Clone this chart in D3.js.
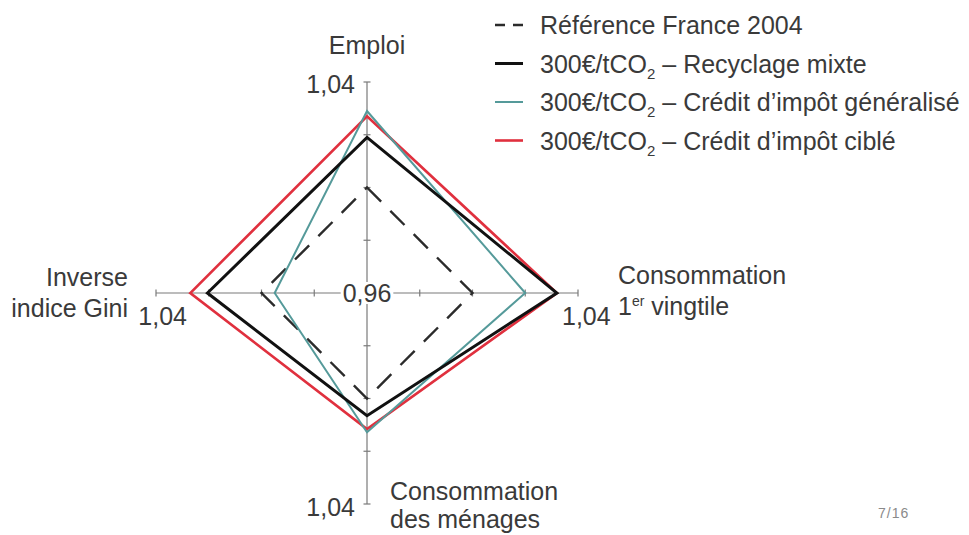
<!DOCTYPE html>
<html lang="fr">
<head>
<meta charset="utf-8">
<script src="https://cdn.jsdelivr.net/npm/d3@7"></script>
<style>
  html, body { margin: 0; padding: 0; background: #fff; }
  svg { display: block; font-family: "Liberation Sans", Arial, sans-serif; }
</style>
</head>
<body>
<svg id="chart" width="969" height="535"></svg>
<script>
// Axes of the radar, clockwise from the top
const axes = ["Emploi", "Consommation 1er vingtile", "Consommation des ménages", "Inverse indice Gini"];
// Scale bounds (centre, outer end) and intermediate ticks
const scaleDomain = [0.96, 1.04];
const tickValues = [0.96, 0.98, 1.00, 1.02, 1.04];

// Scenario values, one per axis in the order above
const reference2004 = [1.000, 1.000, 1.000, 1.000];
const recyclageMixte = [1.019, 1.032, 1.0065, 1.0205];
const creditGeneralise = [1.029, 1.020, 1.0128, 0.995];
const creditCible = [1.027, 1.032, 1.0116, 1.027];

// Legend entries: main label, subscript, rest of label
const seriesNames = [
  ["Référence France 2004", "", ""],
  ["300€/tCO", "2", " – Recyclage mixte"],
  ["300€/tCO", "2", " – Crédit d’impôt généralisé"],
  ["300€/tCO", "2", " – Crédit d’impôt ciblé"]
];
const seriesValues = [reference2004, recyclageMixte, creditGeneralise, creditCible];

const styles = [
  { color: "#2b2b2b", width: 2.4, dash: "20,13" },
  { color: "#111111", width: 3, dash: null },
  { color: "#559a9a", width: 2, dash: null },
  { color: "#e0303e", width: 2.6, dash: null }
];

const svg = d3.select("#chart");
svg.append("rect").attr("width", 969).attr("height", 535).attr("fill", "#fff");

const cx = 367, cy = 293, R = 211;
const textColor = "#3a3a3a";
const fontSize = 25;

const r = d3.scaleLinear().domain(scaleDomain).range([0, R]);
const angle = i => i * Math.PI / 2;   // 0 = up, clockwise
const fr = d3.formatLocale({ decimal: ",", thousands: " ", grouping: [3], currency: ["", " €"] });
const fmt = fr.format(".2f");

const g = svg.append("g").attr("transform", `translate(${cx},${cy})`);

// Axis lines with small tick marks
const axisG = g.append("g").attr("stroke", "#7a7a7a").attr("stroke-width", 1.2);
axes.forEach((a, i) => {
  const th = angle(i);
  const ux = Math.sin(th), uy = -Math.cos(th);
  axisG.append("line")
    .attr("x1", 0).attr("y1", 0)
    .attr("x2", ux * r(scaleDomain[1])).attr("y2", uy * r(scaleDomain[1]));
  tickValues.slice(1).forEach(v => {
    const d = r(v);
    axisG.append("line")
      .attr("x1", ux * d - uy * 3.5).attr("y1", uy * d + ux * 3.5)
      .attr("x2", ux * d + uy * 3.5).attr("y2", uy * d - ux * 3.5);
  });
});

// Series polygons
const radial = d3.lineRadial()
  .angle((d, i) => angle(i))
  .radius(d => r(d))
  .curve(d3.curveLinearClosed);

const drawOrder = [0, 3, 2, 1];
drawOrder.forEach(k => {
  g.append("path")
    .datum(seriesValues[k])
    .attr("d", radial)
    .attr("fill", "none")
    .attr("stroke", styles[k].color)
    .attr("stroke-width", styles[k].width)
    .attr("stroke-linejoin", "miter")
    .attr("stroke-dasharray", styles[k].dash);
});

// Centre label with a white backing over the axes
const centre = g.append("g");
const centreText = centre.append("text")
  .attr("x", 0).attr("y", 9)
  .attr("text-anchor", "middle")
  .attr("font-size", fontSize)
  .attr("fill", textColor)
  .text(fmt(scaleDomain[0]));
const bb = centreText.node().getBBox();
centre.insert("rect", "text")
  .attr("x", bb.x - 2).attr("y", -11).attr("width", bb.width + 4).attr("height", 22)
  .attr("fill", "#fff");

// Outer-end value labels
const outer = fmt(scaleDomain[1]);
const endLabels = [
  { x: -12, y: -R + 11, anchor: "end" },
  { x: R - 16, y: 32, anchor: "start" },
  { x: -12, y: R + 12, anchor: "end" },
  { x: -R + 31, y: 32, anchor: "end" }
];
endLabels.forEach(p => {
  g.append("text")
    .attr("x", p.x).attr("y", p.y)
    .attr("text-anchor", p.anchor)
    .attr("font-size", fontSize)
    .attr("fill", textColor)
    .text(outer);
});

// Axis names
function label(x, y, anchor, lines, lead) {
  const t = g.append("text")
    .attr("x", x).attr("y", y)
    .attr("text-anchor", anchor)
    .attr("font-size", fontSize)
    .attr("fill", textColor);
  lines.forEach((ln, j) => {
    const ts = t.append("tspan").attr("x", x).attr("dy", j === 0 ? 0 : lead);
    if (Array.isArray(ln)) {
      ts.text(ln[0]);
      t.append("tspan").attr("font-size", 14).attr("dy", -9).text(ln[1]);
      t.append("tspan").attr("dy", 9).text(ln[2]);
    } else {
      ts.text(ln);
    }
  });
}
label(0, -R - 28, "middle", [axes[0]], 31);
label(R + 40, -9, "start", ["Consommation", ["1", "er", " vingtile"]], 31);
label(23, R - 4, "start", ["Consommation", "des ménages"], 28);
label(-R - 28, -7, "end", ["Inverse", "indice Gini"], 31);

// Legend
const legend = svg.append("g").attr("transform", "translate(495,0)");
seriesNames.forEach((nm, k) => {
  const base = 34 + k * 38.5;
  const row = legend.append("g");
  const ly = base - 9;
  const ln = row.append("line").attr("x1", 0).attr("x2", 28).attr("y1", ly).attr("y2", ly)
    .attr("stroke", styles[k].color).attr("stroke-width", styles[k].width);
  if (styles[k].dash) ln.attr("stroke-dasharray", "10,8");
  const t = row.append("text").attr("x", 45).attr("y", base)
    .attr("font-size", fontSize).attr("fill", textColor);
  t.append("tspan").text(nm[0]);
  if (nm[1]) {
    t.append("tspan").attr("font-size", 15).attr("dy", 6).text(nm[1]);
    t.append("tspan").attr("dy", -6).text(nm[2]);
  }
});

// Page number
svg.append("text").attr("x", 878).attr("y", 518)
  .attr("font-size", 14).attr("letter-spacing", 1).attr("fill", "#8a8a8a").text("7/16");
</script>
</body>
</html>
